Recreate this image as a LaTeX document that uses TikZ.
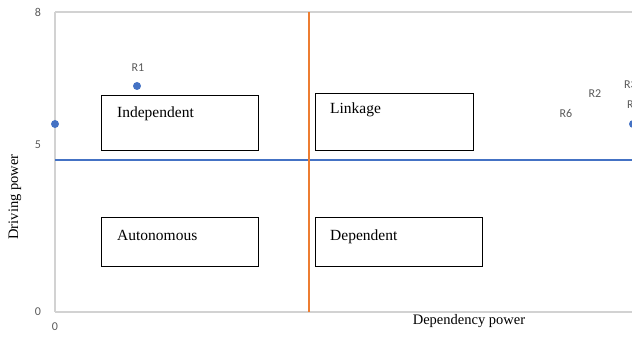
\documentclass[tikz,border=0pt]{standalone}
\usepackage{fontspec}
\setmainfont{Liberation Serif}
\newfontfamily\tickfont{Carlito}
\definecolor{axisgray}{RGB}{210,210,210}
\definecolor{tickgray}{RGB}{89,89,89}
\definecolor{offblue}{RGB}{68,114,196}
\definecolor{offorange}{RGB}{237,125,49}
\tikzset{
  quadbox/.style={draw=black, line width=0.9pt, anchor=north west, inner sep=0pt},
  quadtext/.style={anchor=base west, inner sep=0pt, font=\fontsize{15.5}{17}\selectfont},
  ticklbl/.style={inner sep=0pt, font=\tickfont\fontsize{12}{13}\selectfont, text=tickgray},
  ptlbl/.style={inner sep=0pt, font=\tickfont\fontsize{12}{13}\selectfont, text=tickgray},
  dot/.style={circle, fill=offblue, inner sep=0pt, minimum size=8pt},
  axistitle/.style={inner sep=0pt, font=\fontsize{14.5}{16}\selectfont},
}
\begin{document}
\begin{tikzpicture}[x=1pt,y=1pt]
\useasboundingbox (0,0) rectangle (632,337);
\clip (0,0) rectangle (632,337);
% plot frame
\coordinate (tl) at (55,325);
\coordinate (tr) at (640,325);
\coordinate (bl) at (55,25);
\coordinate (br) at (640,25);
\draw[axisgray, line width=1.5pt] (tl) -- (tr);
\draw[axisgray, line width=1.5pt] (bl) -- (br);
\draw[axisgray, line width=1.5pt] (tl) -- (bl);
% tick labels
\node[ticklbl] (y8) at (38,325) {8};
\node[ticklbl] (y5) at (38,192) {5};
\node[ticklbl] (y0) at (38,25) {0};
\node[ticklbl] (x0) at (55,10) {0};
\node[ticklbl] (x8) at (636,10) {8};
% axis titles
\node[axistitle, rotate=90] (ytitle) at (15,140) {Driving power};
\node[axistitle] (xtitle) at (469,16) {Dependency power};
% quadrant boxes
\node[quadbox, minimum width=157pt, minimum height=55pt] (indbox) at (101,242) {};
\node[quadbox, minimum width=158pt, minimum height=57pt] (linkbox) at (315,244) {};
\node[quadbox, minimum width=157pt, minimum height=49pt] (autbox) at (101,120) {};
\node[quadbox, minimum width=167pt, minimum height=49pt] (depbox) at (315,120) {};
\node[quadtext] (indtxt) at (117,219) {Independent};
\node[quadtext] (linktxt) at (330,223) {Linkage};
\node[quadtext] (auttxt) at (117,96) {Autonomous};
\node[quadtext] (deptxt) at (330,96) {Dependent};
% dividing lines
\coordinate (vtop) at (309,325);
\coordinate (vbot) at (309,25);
\coordinate (hleft) at (55,177);
\coordinate (hright) at (640,177);
\draw[offblue, line width=2.4pt] (hleft) -- (hright);
\draw[offorange, line width=2.6pt] (vtop) -- (vbot);
% points
\node[dot] (p0) at (55,213) {};
\node[dot] (p1) at (137,251) {};
\node[ptlbl] (r1) at (138,269) {R1};
\node[dot] (p2) at (633,213) {};
\node[ptlbl] (r6) at (566,224) {R6};
\node[ptlbl] (r2) at (595,243) {R2};
\node[ptlbl, anchor=west] (r3) at (624,252) {R3};
\node[ptlbl, anchor=west] (r4) at (627,232) {R4};
\end{tikzpicture}
\end{document}
